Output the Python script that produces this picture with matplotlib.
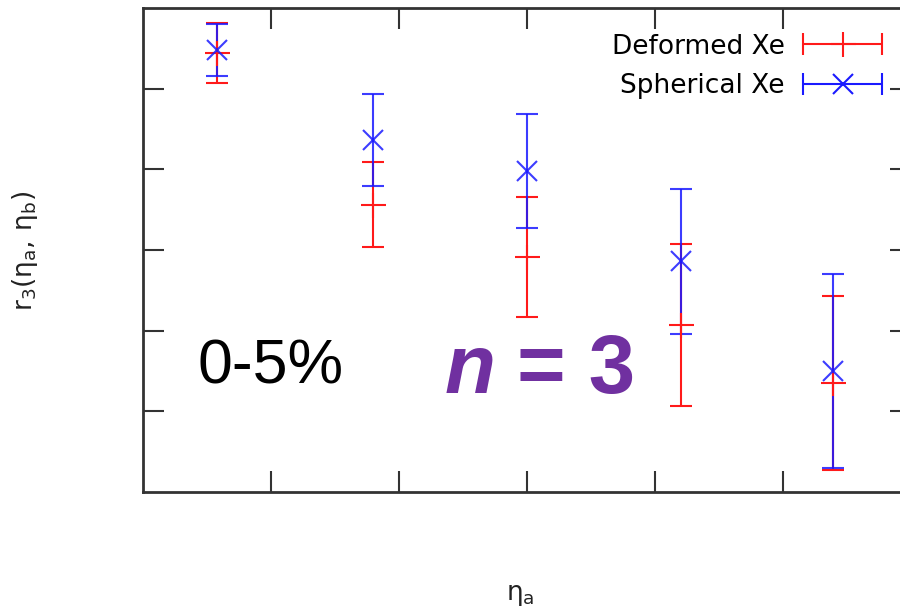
import matplotlib
matplotlib.use("Agg")
import matplotlib.pyplot as plt
from matplotlib.legend_handler import HandlerErrorbar
import numpy as np

# eta_a bin positions (axis units, no tick labels shown)
eta_a = [0.58, 1.80, 3.00, 4.20, 5.39]

# deformed Xe
r3_def = [5.44, 3.56, 2.91, 2.07, 1.35]
err_def = [0.375, 0.525, 0.745, 1.00, 1.075]

# spherical Xe
r3_sph = [5.48, 4.36, 3.98, 2.86, 1.50]
err_sph = [0.32, 0.57, 0.71, 0.90, 1.20]

xticks = [1, 2, 3, 4, 5]
yticks = [1, 2, 3, 4, 5]

W, H = 900, 611
fig = plt.figure(figsize=(9, 6.11), dpi=100)
ax = fig.add_axes([143 / W, 1 - 492 / H, 768 / W, 484 / H])

red = "#ff1a1a"
blue = "#1a1aff"
kw = dict(mew=1.5, elinewidth=1.5, capsize=8, capthick=1.5)

ax.errorbar(eta_a, r3_def, yerr=err_def, fmt="+", color=red, ms=18, **kw)
ax.errorbar(eta_a, r3_sph, yerr=err_sph, fmt="x", color=blue, ms=14,
            alpha=0.85, **kw)

# legend proxies with horizontal error bars like gnuplot
h1 = ax.errorbar([np.nan], [np.nan], xerr=[1], fmt="+", color=red, ms=18, **kw)
h2 = ax.errorbar([np.nan], [np.nan], xerr=[1], fmt="x", color=blue, ms=14, **kw)
ax.legend([h1, h2], ["Deformed Xe", "Spherical Xe"], loc="upper right",
          bbox_to_anchor=((893 - 143) / 768, 1 - 15 / 484), frameon=False,
          fontsize=19, markerfirst=False, handlelength=3.0,
          handletextpad=0.7, labelspacing=0.52, borderaxespad=0,
          handler_map={h1: HandlerErrorbar(xerr_size=1.5),
                       h2: HandlerErrorbar(xerr_size=1.5)})

ax.set_xlim(0, 6)
ax.set_ylim(0, 6)
ax.set_xticks(xticks)
ax.set_yticks(yticks)
ax.tick_params(direction="in", length=15, width=1.5, color="#333333",
               top=True, right=True, labelbottom=False, labelleft=False)
for s in ax.spines.values():
    s.set_linewidth(2)
    s.set_color("#333333")

fig.text(25 / W, 1 - 251 / H, r"$\mathregular{r_3(\eta_a,\/\eta_b)}$",
         rotation=90, ha="center", va="center", fontsize=19, color="#222222")
fig.text(520 / W, 1 - 595 / H, r"$\mathregular{\eta_a}$",
         ha="center", va="center", fontsize=19, color="#222222")

fig.text(198 / W, 1 - 367 / H, "0-5%", fontsize=45, family="Liberation Sans",
         ha="left", va="center")
fig.text(445 / W, 1 - 371 / H, "n", fontsize=60, family="Liberation Sans",
         fontweight="bold", style="italic", color="#7030a0",
         ha="left", va="center")
fig.text(517 / W, 1 - 371 / H, "= 3", fontsize=60, family="Liberation Sans",
         fontweight="bold", color="#7030a0", ha="left", va="center")

fig.savefig("out.png", dpi=100)
